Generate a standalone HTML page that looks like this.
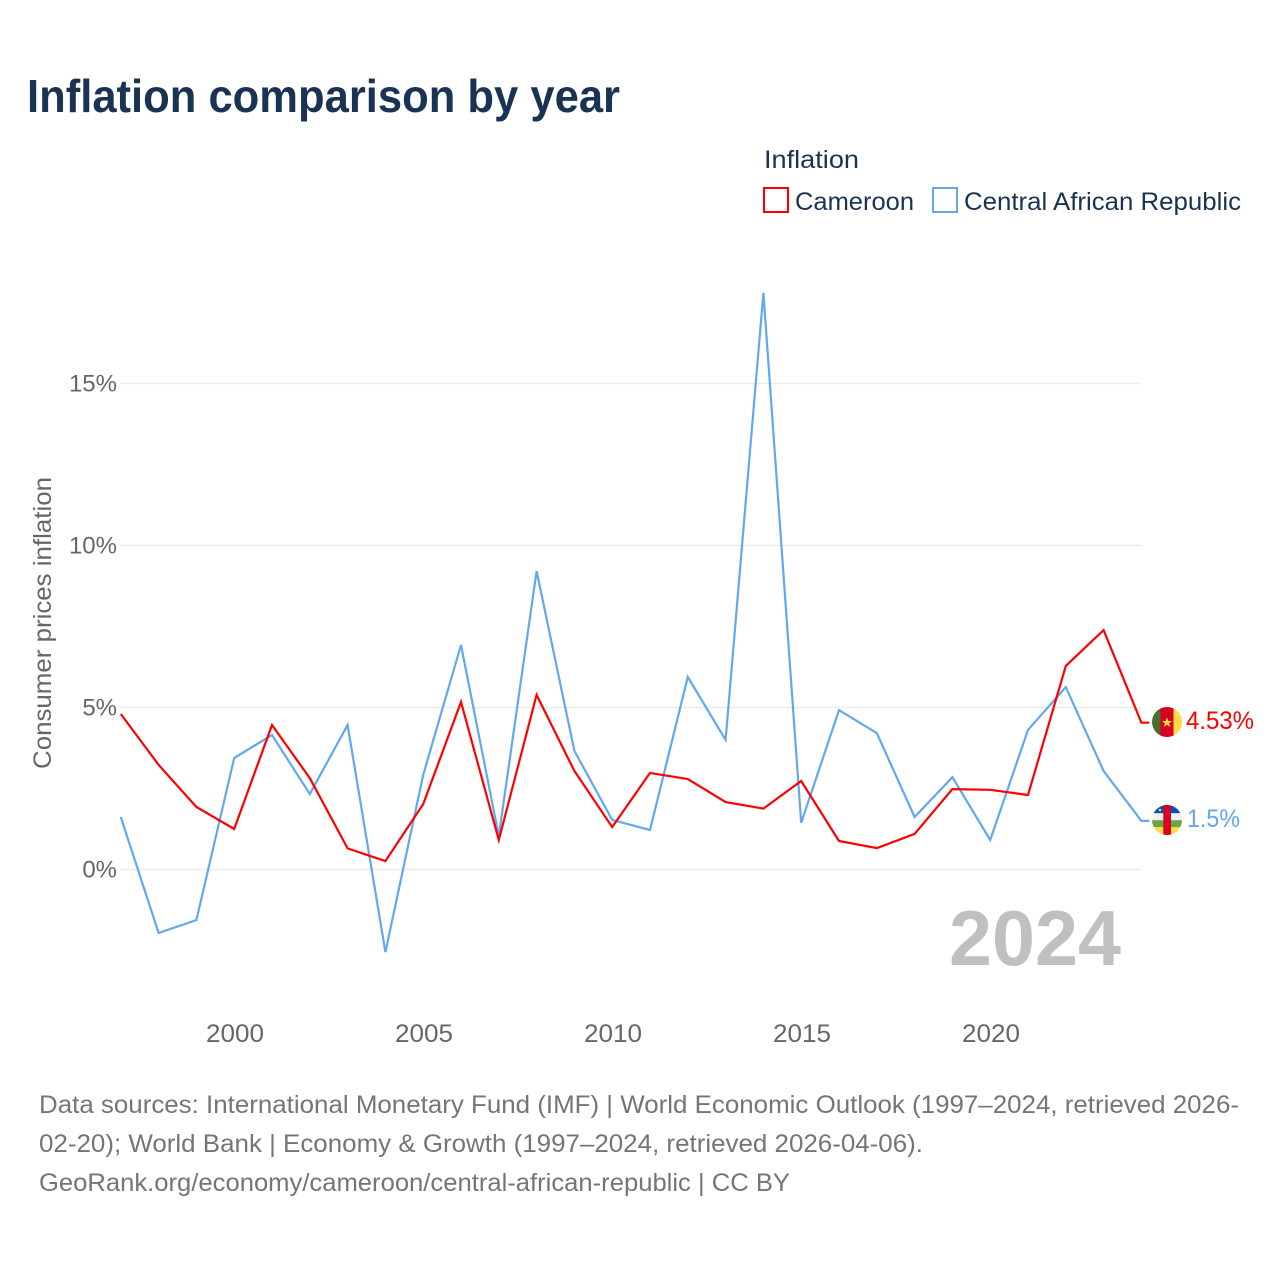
<!DOCTYPE html>
<html lang="en">
<head>
<meta charset="utf-8">
<title>Inflation comparison by year</title>
<style>
html,body{margin:0;padding:0;background:#fff}
svg{display:block}
text{font-family:"Liberation Sans",sans-serif}
</style>
</head>
<body>
<svg id="chart" width="1280" height="1280" viewBox="0 0 1280 1280" xmlns="http://www.w3.org/2000/svg">
  <defs>
    <clipPath id="flag-clip-cm"><circle cx="1167" cy="722" r="15"/></clipPath>
    <clipPath id="flag-clip-cf"><circle cx="1167" cy="820" r="15"/></clipPath>
  </defs>
  <rect x="0" y="0" width="1280" height="1280" fill="#fff"/>
  <text x="27" y="112" font-size="46" font-weight="700" fill="#1a3353" textLength="593" lengthAdjust="spacingAndGlyphs">Inflation comparison by year</text>

  <g>
    <text x="764" y="168" font-size="25" fill="#1a3353" textLength="95" lengthAdjust="spacingAndGlyphs">Inflation</text>
    <rect x="764" y="188" width="24" height="24" fill="#fff" stroke="#ff0000" stroke-width="2"/>
    <text x="795" y="210" font-size="25" fill="#1a3353" textLength="119" lengthAdjust="spacingAndGlyphs">Cameroon</text>
    <rect x="933" y="188" width="24" height="24" fill="#fff" stroke="#62a8ef" stroke-width="2"/>
    <text x="964" y="210" font-size="25" fill="#1a3353" textLength="277" lengthAdjust="spacingAndGlyphs">Central African Republic</text>
  </g>

  <g id="grid"></g>
  <g id="yticks"></g>
  <g id="xticks"></g>
  <text transform="translate(51,769) rotate(-90)" x="0" y="0" font-size="25" fill="#666" textLength="292" lengthAdjust="spacingAndGlyphs">Consumer prices inflation</text>
  <text x="1121" y="965" text-anchor="end" font-size="78" font-weight="700" fill="#c0c0c0" textLength="172" lengthAdjust="spacingAndGlyphs">2024</text>
  <g id="series"></g>

  <g clip-path="url(#flag-clip-cm)">
    <rect x="1152" y="707" width="8.5" height="30" fill="#496e2d"/>
    <rect x="1160.5" y="707" width="13" height="30" fill="#d80027"/>
    <rect x="1173.5" y="707" width="8.5" height="30" fill="#ffda44"/>
    <polygon points="1167,717.5 1168.4,721 1172,721 1169.1,723.4 1170.2,727 1167,724.8 1163.8,727 1164.9,723.4 1162,721 1165.6,721" fill="#ffda44"/>
  </g>
  <g clip-path="url(#flag-clip-cf)">
    <rect x="1152" y="805" width="30" height="8.3" fill="#0052b4"/>
    <rect x="1152" y="813.3" width="30" height="6.9" fill="#f0f0f0"/>
    <rect x="1152" y="820.2" width="30" height="6.8" fill="#6da544"/>
    <rect x="1152" y="827" width="30" height="8" fill="#ffda44"/>
    <rect x="1163.3" y="805" width="7.7" height="30" fill="#d80027"/>
    <circle cx="1160" cy="810" r="1.3" fill="#ffda44"/>
  </g>
  <text x="1186" y="729" font-size="25" fill="#ff0000" textLength="68" lengthAdjust="spacingAndGlyphs">4.53%</text>
  <text x="1187" y="827" font-size="25" fill="#62a8ef" textLength="53" lengthAdjust="spacingAndGlyphs">1.5%</text>

  <g font-size="25" fill="#757575">
    <text x="39" y="1113" textLength="1200" lengthAdjust="spacingAndGlyphs">Data sources: International Monetary Fund (IMF) | World Economic Outlook (1997–2024, retrieved 2026-</text>
    <text x="39" y="1152" textLength="884" lengthAdjust="spacingAndGlyphs">02-20); World Bank | Economy &amp; Growth (1997–2024, retrieved 2026-04-06).</text>
    <text x="39" y="1191" textLength="751" lengthAdjust="spacingAndGlyphs">GeoRank.org/economy/cameroon/central-african-republic | CC BY</text>
  </g>
</svg>
<script>
const years = [1997,1998,1999,2000,2001,2002,2003,2004,2005,2006,2007,2008,2009,2010,2011,2012,2013,2014,2015,2016,2017,2018,2019,2020,2021,2022,2023,2024];
const cameroon = [4.80,3.23,1.93,1.25,4.46,2.82,0.65,0.26,2.02,5.17,0.91,5.39,3.04,1.31,2.98,2.79,2.08,1.88,2.73,0.88,0.66,1.10,2.48,2.46,2.30,6.28,7.39,4.53];
const centralAfricanRepublic = [1.62,-1.96,-1.56,3.44,4.15,2.33,4.46,-2.55,2.92,6.93,1.03,9.21,3.66,1.53,1.22,5.94,4.00,17.80,1.44,4.92,4.21,1.62,2.85,0.91,4.31,5.63,3.04,1.50];
const yTickValues = [0,5,10,15];
const yTickLabels = ['0%','5%','10%','15%'];
const xTickValues = [2000,2005,2010,2015,2020];
const xTickLabels = ['2000','2005','2010','2015','2020'];

const NS = 'http://www.w3.org/2000/svg';
function xScale(year){ return 234.2 + (year - 2000) * 37.8; }
function yScale(value){ return 869.5 - value * 32.4; }

const grid = document.getElementById('grid');
const yticks = document.getElementById('yticks');
const xticks = document.getElementById('xticks');
const seriesGroup = document.getElementById('series');

yTickValues.forEach(function(v,i){
  const line = document.createElementNS(NS,'line');
  
  
  line.setAttribute('x1', xScale(years[0]));
  line.setAttribute('x2', xScale(years[years.length-1]));
  line.setAttribute('y1', yScale(v));
  line.setAttribute('y2', yScale(v));
  line.setAttribute('stroke', '#ececec');
  line.setAttribute('stroke-width', '1.6');
  grid.appendChild(line);

  const label = document.createElementNS(NS,'text');
  
  
  label.setAttribute('x', 117);
  label.setAttribute('y', yScale(v) + 8);
  label.setAttribute('text-anchor', 'end');
  label.setAttribute('font-size', '24');
  label.setAttribute('fill', '#666');
  label.textContent = yTickLabels[i];
  yticks.appendChild(label);
});

xTickValues.forEach(function(v,i){
  const label = document.createElementNS(NS,'text');
  
  
  label.setAttribute('x', xScale(v) + 0.8);
  label.setAttribute('y', 1042);
  label.setAttribute('text-anchor', 'middle');
  label.setAttribute('font-size', '25');
  label.setAttribute('fill', '#666');
  label.setAttribute('textLength', '58');
  label.setAttribute('lengthAdjust', 'spacingAndGlyphs');
  label.textContent = xTickLabels[i];
  xticks.appendChild(label);
});

function drawSeries(values, color){
  const pts = values.map(function(v,i){ return xScale(years[i]).toFixed(1) + ',' + yScale(v).toFixed(1); });
  const lastY = yScale(values[values.length-1]).toFixed(1);
  pts.push((xScale(years[years.length-1]) + 8).toFixed(1) + ',' + lastY);
  const line = document.createElementNS(NS,'polyline');
  
  
  line.setAttribute('points', pts.join(' '));
  line.setAttribute('fill', 'none');
  line.setAttribute('stroke', color);
  line.setAttribute('stroke-width', '2.2');
  line.setAttribute('stroke-linejoin', 'miter');
  seriesGroup.appendChild(line);
}
drawSeries(centralAfricanRepublic, '#62a8ef');
drawSeries(cameroon, '#ff0000');
</script>
</body>
</html>
